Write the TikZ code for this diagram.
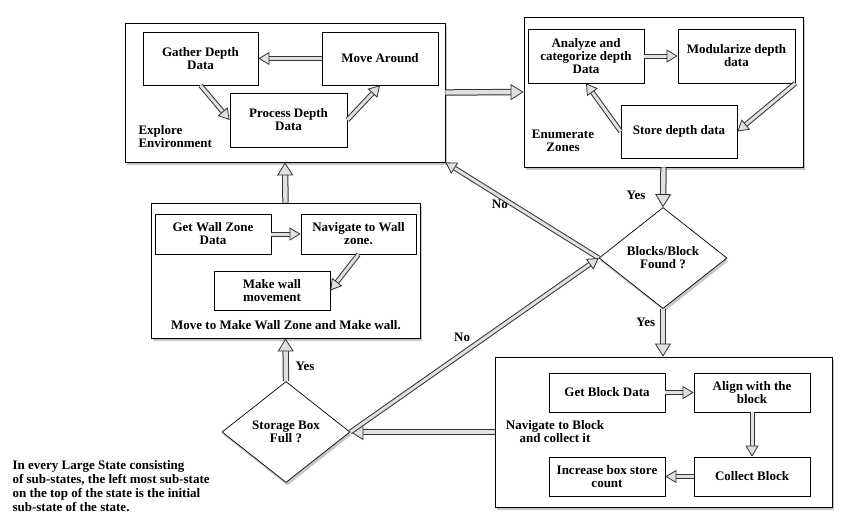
\documentclass[tikz,border=0pt]{standalone}
\usepackage{fontspec}
\setmainfont{Liberation Serif}
\usepackage{tikz}
\usetikzlibrary{shapes.geometric, arrows.meta, shadows}
\newcommand{\testo}{\bfseries\fontsize{13}{13}\selectfont}
\tikzset{
    stato/.style = {draw, line width = 0.8pt, fill = white, drop shadow = {shadow xshift = 1.5pt, shadow yshift = -3pt, opacity = 0.45}},
    sotto/.style = {draw, line width = 0.7pt, fill = white, align = center, inner sep = 2pt, minimum width = 116, minimum height = 39},
    scelta/.style = {diamond, draw, line width = 0.7pt, fill = white, align = center, inner sep = 0pt, minimum width = 128, minimum height = 101, drop shadow = {shadow xshift = 1.5pt, shadow yshift = -3pt, opacity = 0.45}},
    freccia/.style = {draw = black!80, line width = 1pt, double = black!12, double distance = 3pt, -{Triangle[line width = 0.8pt, length = 11pt, width = 13pt, fill = black!12]}},
    freccione/.style = {freccia, double distance = 4.4pt, -{Triangle[line width = 0.8pt, length = 13pt, width = 16pt, fill = black!12]}}
}

\begin{document}
\begin{tikzpicture}[x = 1pt, y = -1pt, every node/.style = {font = \testo}]
    \useasboundingbox (0,0) rectangle (853,531);
    % Stati grandi
    \node[stato, minimum width = 320, minimum height = 139] (esplora) at (285,92.5) {};
    \node[stato, minimum width = 279, minimum height = 150] (enumera) at (663.5,92) {};
    \node[stato, minimum width = 269, minimum height = 135] (muro) at (285.5,270.5) {};
    \node[stato, minimum width = 337, minimum height = 150] (blocco) at (663.5,432) {};
    % Scelte
    \node[scelta] (trovati) at (663,258) {Blocks/Block\\Found ?};
    \node[scelta] (piena) at (286,432) {Storage Box\\Full ?};
    % Explore Environment
    \node[sotto, minimum width = 115, minimum height = 53] (gather) at (200.5,58.5) {Gather Depth\\Data};
    \node[sotto, minimum height = 53] (move) at (380,58.5) {Move Around};
    \node[sotto, minimum width = 117, minimum height = 54] (process) at (288.5,120) {Process Depth\\Data};
    \node[anchor = west, align = left] (esplorat) at (135,136.5) {Explore\\Environment};
    \draw[freccia] (move.west) -- (gather.east);
    \draw[freccia] (gather.south) -- (process.west);
    \draw[freccia] (process.east) -- (move.south);
    % Enumerate Zones
    \node[sotto, minimum height = 54] (analizza) at (586,56) {Analyze and\\categorize depth\\Data};
    \node[sotto, minimum width = 117, minimum height = 54] (modula) at (736.5,56) {Modularize depth\\data};
    \node[sotto, minimum height = 53] (salva) at (679,131.5) {Store depth data};
    \node[align = center] (enumerat) at (563,141) {Enumerate\\Zones};
    \draw[freccia] (analizza.east) -- (modula.west);
    \draw[freccia] (modula.south east) -- (salva.east);
    \draw[freccia] (salva.west) -- (analizza.south);
    % Move to Make Wall Zone
    \node[sotto, minimum height = 40] (getwall) at (213,234) {Get Wall Zone\\Data};
    \node[sotto, minimum width = 115, minimum height = 40] (navwall) at (358.5,234) {Navigate to Wall\\zone.};
    \node[sotto] (makewall) at (272,290.5) {Make wall\\movement};
    \node (murot) at (286,325) {Move to Make Wall Zone and Make wall.};
    \draw[freccia] (getwall.east) -- (navwall.west);
    \draw[freccia] (navwall.south) -- (makewall.east);
    % Navigate to Block
    \node[sotto] (getblock) at (607,392.5) {Get Block Data};
    \node[sotto] (allinea) at (752,392.5) {Align with the\\block};
    \node[sotto] (aumenta) at (607,476.5) {Increase box store\\count};
    \node[sotto] (raccogli) at (752,476.5) {Collect Block};
    \node[align = center] (bloccot) at (555,432) {Navigate to Block\\and collect it};
    \draw[freccia] (getblock.east) -- (allinea.west);
    \draw[freccia] (allinea.south) -- (raccogli.north);
    \draw[freccia] (raccogli.west) -- (aumenta.east);
    % Transizioni
    \draw[freccione] (esplora.east) -- (enumera.west);
    \draw[freccione] (enumera.south) -- (trovati.north) node[pos = 0.7, left = 14pt]{Yes};
    \draw[freccione] (trovati.south) -- (trovati.south |- blocco.north) node[pos = 0.28, left = 4pt]{Yes};
    \draw[freccia] (trovati.west) -- (esplora.south east) node[pos = 0.645, below]{No};
    \draw[freccione] (blocco.west) -- (piena.east);
    \draw[freccia] (piena.east) -- (trovati.west) node[pos = 0.45, above = 8pt]{No};
    \draw[freccione] (piena.north) -- (muro.south) node[pos = 0.34, right = 6pt]{Yes};
    \draw[freccione] (muro.north) -- (esplora.south);
    % Nota
    \node[anchor = north west, align = left, font = \bfseries\fontsize{13}{14}\selectfont] (nota) at (9,457) {In every Large State consisting\\of sub-states, the left most sub-state\\on the top of the state is the initial\\sub-state of the state.};
\end{tikzpicture}
\end{document}
